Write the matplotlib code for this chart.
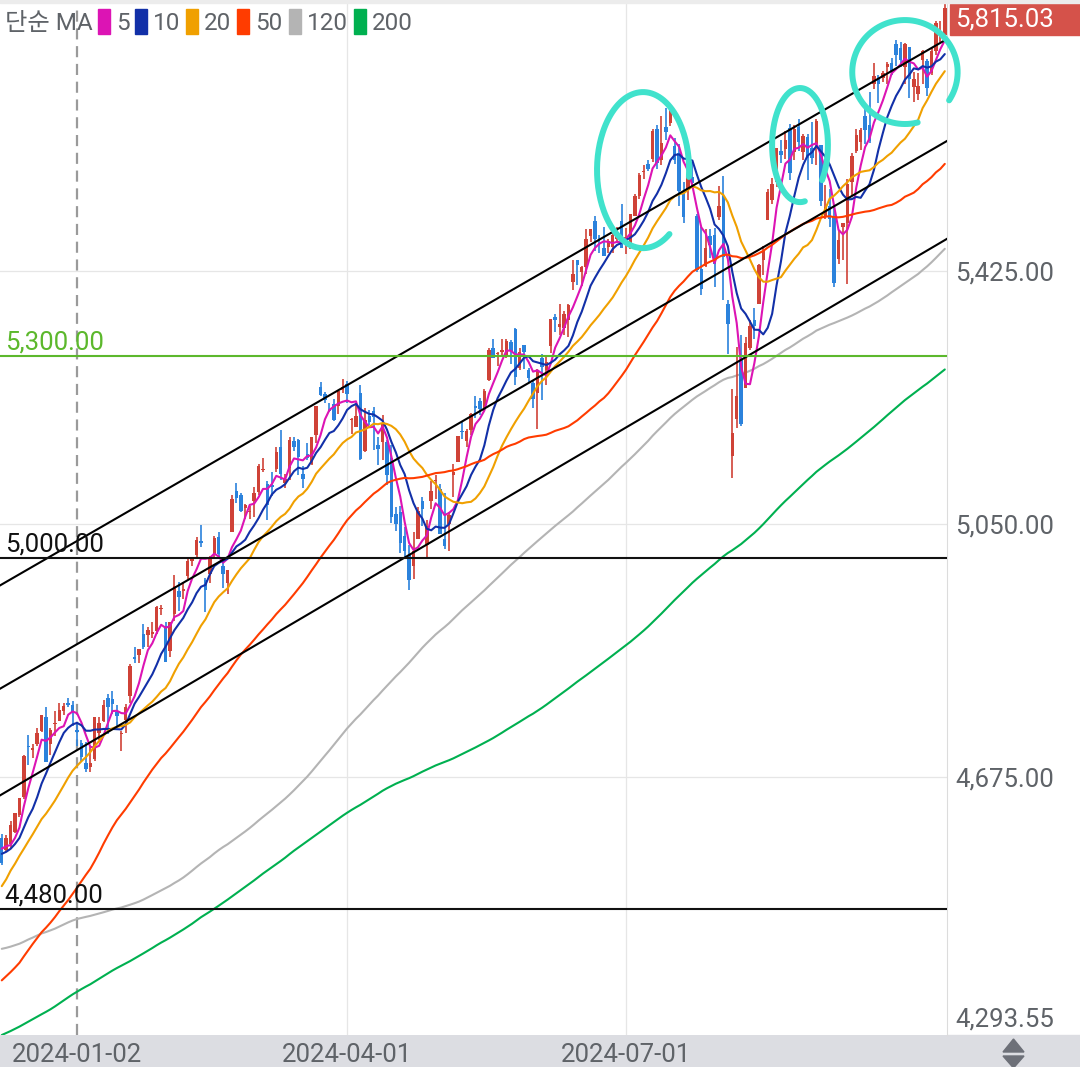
import numpy as np
import pandas as pd
import matplotlib
matplotlib.use('Agg')
import matplotlib.pyplot as plt
import matplotlib.transforms as mtransforms
from matplotlib.patches import Rectangle, Polygon

plt.rcParams['font.family'] = ['Roboto', 'Noto Sans CJK KR', 'DejaVu Sans']

# closes before the visible window (2023-02-21 .. 2023-12-05), only used to warm up the MAs
hist_close = [3997, 3991, 4012, 3970, 3982, 3970,
              3951, 3981, 4046, 4048, 3986, 3992, 3918, 3862, 3855, 3920, 3892, 3960, 3917, 3951, 4003, 3937, 3949, 3971, 3977, 3971, 4028, 4051, 4109,
              4125, 4101, 4091, 4105, 4110, 4109, 4092, 4146, 4138, 4152, 4155, 4155, 4130, 4134, 4137, 4072, 4056, 4136, 4169,
              4168, 4120, 4091, 4061, 4136, 4138, 4119, 4138, 4131, 4124, 4136, 4110, 4158, 4198, 4192, 4193, 4146, 4116, 4151, 4205, 4206, 4180,
              4221, 4282, 4273, 4284, 4268, 4294, 4299, 4338, 4369, 4373, 4426, 4410, 4389, 4366, 4382, 4348, 4328, 4378, 4377, 4396, 4450,
              4455, 4447, 4412, 4399, 4410, 4439, 4473, 4510, 4505, 4522, 4555, 4566, 4535, 4536, 4555, 4567, 4566, 4538, 4582, 4589,
              4577, 4513, 4502, 4478, 4518, 4499, 4468, 4469, 4464, 4490, 4437, 4404, 4370, 4370, 4400, 4387, 4436, 4376, 4406, 4433, 4497, 4514, 4508,
              4516, 4497, 4465, 4451, 4457, 4487, 4462, 4467, 4505, 4450, 4454, 4444, 4402, 4330, 4320, 4337, 4274, 4275, 4300, 4288,
              4288, 4229, 4263, 4258, 4308, 4336, 4358, 4377, 4350, 4328, 4373, 4373, 4315, 4278, 4224, 4217, 4248, 4186, 4137, 4117, 4167, 4194,
              4237, 4318, 4358, 4366, 4378, 4383, 4347, 4415, 4412, 4496, 4502, 4508, 4514, 4547, 4538, 4556, 4559, 4550, 4555, 4551, 4568,
              4595, 4569, 4567]

# visible daily candles 2023-12-06 .. 2024-10-11
opens = [4586, 4568, 4576, 4594, 4619, 4646, 4721, 4715, 4725, 4744, 4764, 4724, 4754, 4759, 4774, 4786, 4782,
         4745, 4726, 4697, 4690, 4703, 4741, 4759, 4793, 4791, 4772, 4739, 4760, 4796, 4853, 4856, 4888, 4886, 4888, 4892, 4925, 4899,
         4862, 4917, 4951, 4951, 4973, 4995, 5004, 5026, 4967, 4976, 5004, 5031, 4989, 4963, 5039, 5100, 5094, 5074, 5068, 5085,
         5098, 5131, 5110, 5109, 5132, 5164, 5111, 5134, 5174, 5175, 5124, 5154, 5140, 5182, 5253, 5243, 5220, 5228, 5226, 5249,
         5258, 5204, 5194, 5244, 5158, 5211, 5218, 5168, 5172, 5172, 5149, 5065, 5068, 5032, 5005, 4988, 5029, 5085, 5019, 5084, 5114, 5103,
         5029, 5050, 5123, 5142, 5188, 5173, 5190, 5226, 5233, 5222, 5264, 5311, 5303, 5305, 5299, 5320, 5340, 5282, 5315, 5278, 5259, 5244,
         5297, 5278, 5314, 5357, 5343, 5341, 5353, 5409, 5441, 5424, 5431, 5477, 5499, 5466, 5459, 5461, 5461, 5473, 5499,
         5471, 5461, 5507, 5537, 5572, 5584, 5591, 5636, 5590, 5638, 5645, 5610, 5600, 5543, 5545, 5565, 5506, 5428, 5433, 5477, 5478, 5505,
         5537, 5376, 5151, 5206, 5293, 5252, 5311, 5353, 5376, 5442, 5501, 5531, 5557, 5603, 5606, 5637, 5602, 5639, 5602, 5624, 5608, 5613,
         5612, 5506, 5521, 5507, 5443, 5490, 5496, 5557, 5603, 5616, 5655, 5641, 5703, 5709, 5711, 5727, 5733, 5762, 5755, 5727,
         5757, 5698, 5688, 5738, 5737, 5719, 5751, 5778, 5775]
highs = [4591, 4590, 4610, 4623, 4644, 4709, 4738, 4725, 4749, 4768, 4779, 4748, 4773, 4785, 4785, 4793, 4788,
         4755, 4730, 4727, 4721, 4764, 4765, 4790, 4798, 4803, 4782, 4744, 4784, 4843, 4868, 4866, 4903, 4898, 4906, 4929, 4931, 4906,
         4906, 4975, 4965, 4964, 4999, 5000, 5031, 5049, 4971, 5003, 5033, 5039, 4993, 4983, 5094, 5111, 5097, 5080, 5077, 5105,
         5140, 5149, 5114, 5127, 5165, 5190, 5124, 5179, 5180, 5176, 5136, 5170, 5180, 5225, 5261, 5246, 5229, 5236, 5249, 5265,
         5263, 5208, 5228, 5256, 5222, 5219, 5224, 5179, 5212, 5175, 5168, 5076, 5077, 5046, 5019, 5038, 5076, 5090, 5057, 5114, 5123, 5110,
         5096, 5069, 5140, 5181, 5201, 5191, 5215, 5240, 5237, 5250, 5311, 5325, 5305, 5325, 5324, 5323, 5341, 5311, 5316, 5282, 5263, 5280,
         5302, 5298, 5354, 5362, 5376, 5366, 5376, 5441, 5442, 5433, 5488, 5486, 5506, 5478, 5490, 5473, 5483, 5490, 5524,
         5489, 5510, 5539, 5570, 5583, 5590, 5635, 5642, 5655, 5667, 5670, 5622, 5614, 5557, 5567, 5586, 5509, 5491, 5488, 5488, 5489, 5551,
         5566, 5383, 5250, 5312, 5330, 5328, 5352, 5371, 5436, 5463, 5546, 5563, 5608, 5620, 5632, 5643, 5642, 5651, 5628, 5628, 5646, 5651,
         5612, 5552, 5546, 5523, 5484, 5497, 5561, 5600, 5636, 5637, 5671, 5690, 5734, 5716, 5721, 5735, 5741, 5767, 5764, 5763,
         5757, 5720, 5718, 5753, 5739, 5757, 5796, 5795, 5823]
lows = [4546, 4565, 4569, 4593, 4616, 4643, 4694, 4704, 4721, 4743, 4698, 4708, 4737, 4758, 4768, 4780, 4751,
        4722, 4700, 4683, 4683, 4699, 4730, 4757, 4739, 4769, 4748, 4714, 4741, 4785, 4845, 4845, 4865, 4869, 4882, 4888, 4916, 4846,
        4853, 4907, 4921, 4939, 4969, 4988, 4999, 5017, 4920, 4963, 4999, 4999, 4955, 4947, 5038, 5081, 5068, 5058, 5058, 5061,
        5094, 5127, 5057, 5092, 5128, 5115, 5104, 5115, 5158, 5123, 5104, 5146, 5138, 5171, 5240, 5229, 5216, 5203, 5214, 5245,
        5229, 5184, 5194, 5146, 5157, 5197, 5160, 5138, 5146, 5108, 5052, 5040, 5007, 5001, 4953, 4969, 5028, 5047, 5002, 5073, 5088, 5035,
        5013, 5011, 5091, 5142, 5176, 5165, 5183, 5208, 5212, 5218, 5263, 5296, 5284, 5300, 5296, 5287, 5256, 5279, 5280, 5260, 5223, 5191,
        5234, 5257, 5304, 5335, 5331, 5331, 5327, 5397, 5404, 5403, 5421, 5468, 5455, 5452, 5448, 5452, 5452, 5467, 5460,
        5451, 5458, 5507, 5532, 5562, 5574, 5587, 5576, 5583, 5619, 5640, 5584, 5522, 5497, 5530, 5551, 5424, 5390, 5431, 5444, 5401, 5501,
        5383, 5302, 5119, 5193, 5195, 5252, 5308, 5324, 5376, 5419, 5501, 5525, 5550, 5585, 5591, 5560, 5590, 5603, 5590, 5560, 5584, 5582,
        5521, 5503, 5490, 5402, 5435, 5441, 5406, 5536, 5600, 5604, 5614, 5615, 5695, 5674, 5705, 5702, 5716, 5729, 5728, 5703,
        5681, 5676, 5678, 5703, 5685, 5715, 5745, 5764, 5773]
closes = [4549, 4586, 4604, 4622, 4644, 4707, 4720, 4719, 4741, 4768, 4698, 4746, 4755, 4775, 4781, 4783, 4770,
          4742, 4705, 4688, 4697, 4764, 4756, 4783, 4780, 4784, 4766, 4739, 4780, 4840, 4851, 4865, 4868, 4894, 4891, 4928, 4925, 4846,
          4906, 4959, 4943, 4954, 4995, 4998, 5027, 5022, 4953, 5001, 5030, 5006, 4976, 4982, 5087, 5089, 5070, 5078, 5070, 5096,
          5137, 5131, 5079, 5105, 5157, 5124, 5117, 5175, 5165, 5150, 5117, 5149, 5179, 5225, 5241, 5234, 5218, 5204, 5248, 5254,
          5243, 5205, 5211, 5147, 5204, 5202, 5209, 5161, 5199, 5123, 5061, 5051, 5022, 5011, 4967, 5010, 5070, 5072, 5048, 5100, 5116, 5036,
          5018, 5064, 5128, 5181, 5187, 5188, 5214, 5223, 5221, 5247, 5308, 5297, 5303, 5308, 5321, 5307, 5268, 5305, 5306, 5267, 5235, 5278,
          5283, 5291, 5354, 5353, 5347, 5361, 5375, 5421, 5434, 5431, 5473, 5487, 5473, 5465, 5448, 5469, 5478, 5483, 5460,
          5475, 5509, 5537, 5567, 5572, 5577, 5633, 5585, 5615, 5631, 5667, 5589, 5544, 5505, 5564, 5555, 5427, 5399, 5459, 5464, 5436, 5522,
          5446, 5347, 5186, 5240, 5199, 5319, 5344, 5344, 5434, 5455, 5543, 5554, 5608, 5597, 5620, 5571, 5635, 5616, 5625, 5592, 5592, 5648,
          5529, 5520, 5503, 5408, 5471, 5496, 5554, 5596, 5626, 5634, 5634, 5618, 5714, 5703, 5719, 5732, 5722, 5745, 5738, 5762,
          5709, 5710, 5700, 5751, 5696, 5751, 5792, 5780, 5815.03]

holidays = ['2023-12-25', '2024-01-01', '2024-01-15', '2024-02-19', '2024-03-29',
            '2024-05-27', '2024-06-19', '2024-07-04', '2024-09-02']
dates = pd.bdate_range('2023-12-06', '2024-10-11', freq='C', holidays=holidays)

ma_periods = [5, 10, 20, 50, 120, 200]
ma_colors = ['#dc14b4', '#1230a8', '#f0a000', '#ff3c00', '#b4b4b4', '#00b050']

levels = [5300, 5000, 4480]
level_colors = ['#5cb82c', '#111111', '#111111']
level_labels = ['5,300.00', '5,000.00', '4,480.00']

# hand drawn channel: price at first and last bar
channel_start = [4961, 4808, 4650]
channel_end = [5767, 5616, 5471]

ytick_vals = [5425, 5050, 4675]
date_ticks = ['2024-01-02', '2024-04-01', '2024-07-01']
last_price = 5815.03
ymin, ymax = 4293.55, 5826.7

# hand drawn cyan marks: center bar, center price, radius bars, radius price, start/end angle
circles = [(144.85, 5574.7, 10.4, 115.6, -5, 305),
           (180.3, 5611.8, 6.3, 84.5, -38, 280),
           (204.0, 5720.0, 11.9, 77.0, -33, 284)]

W, H = 1080, 1067
fig = plt.figure(figsize=(W / 100, H / 100), dpi=100)
fig.patch.set_facecolor('white')
ax = fig.add_axes([0, 32 / H, 947 / W, 1035 / H])

n = len(closes)
x = np.arange(n)
o, h, l, c = (np.array(v, dtype=float) for v in (opens, highs, lows, closes))
xmin, xmax = -0.4, 213.5
ax.set_xlim(xmin, xmax)
ax.set_ylim(ymin, ymax)

# grid
for v in ytick_vals:
    ax.axhline(v, color='#e6e6e6', lw=0.9, zorder=0.5)
pos = {d.strftime('%Y-%m-%d'): i for i, d in enumerate(dates[:n])}
for d in date_ticks:
    i = pos[d]
    if d.endswith('01-02'):
        ax.axvline(i, color='#9a9a9a', lw=1.6, dashes=(5, 3), zorder=0.6)
    else:
        ax.axvline(i, color='#e6e6e6', lw=0.9, zorder=0.5)

# moving averages
all_close = pd.Series(list(hist_close) + list(closes), dtype=float)
nh = len(hist_close)
for p, col in zip(ma_periods, ma_colors):
    ma = all_close.rolling(p).mean().values[nh:]
    ax.plot(x, ma, color=col, lw=1.5, zorder=2 if p >= 120 else 4, solid_capstyle='round')

# candles (red up, blue down)
cols = np.where(c >= o, '#cf4237', '#2b82dc')
ax.vlines(x, l, h, colors=cols, lw=1.2, zorder=3)
ax.bar(x, np.maximum(np.abs(c - o), 1.5), bottom=np.minimum(o, c), width=0.78,
       color=cols, linewidth=0, zorder=3)

# channel lines
for p0, p1 in zip(channel_start, channel_end):
    s = (p1 - p0) / (n - 1)
    ax.plot([xmin, xmax], [p0 + s * xmin, p0 + s * xmax], color='black', lw=1.5, zorder=5)

# level lines + labels
for v, col, lab in zip(levels, level_colors, level_labels):
    ax.axhline(v, color=col, lw=1.5, zorder=5)
    ax.annotate(lab, xy=(0, v), xycoords=('axes fraction', 'data'), xytext=(3.5, 4.5),
                textcoords='offset points', ha='left', va='baseline', fontsize=18.5, color=col, zorder=6)

# cyan marks
for cx, cy, rx, ry, a0, a1 in circles:
    t = np.radians(np.linspace(a0, a1, 200))
    ax.plot(cx + rx * np.cos(t), cy + ry * np.sin(t), color='#40e2cc', lw=4.3,
            solid_capstyle='round', zorder=7, clip_on=False)

for side in ['top', 'left', 'bottom']:
    ax.spines[side].set_visible(False)
ax.spines['right'].set_color('#dcdcdc')
ax.set_xticks([])
ax.set_yticks([])

# price axis labels
tr = mtransforms.blended_transform_factory(ax.transAxes, ax.transData)
for v in ytick_vals:
    ax.text(955 / 947, v, f'{v:,.2f}', transform=tr, ha='left', va='center_baseline',
            fontsize=18.5, color='#5f6368', clip_on=False)
ax.text(955 / 947, 8 / 1035, f'{ymin:,.2f}', transform=ax.transAxes, ha='left', va='baseline',
        fontsize=18.5, color='#5f6368', clip_on=False)

# bottom date band
fig.add_artist(Rectangle((0, 0), 1, 32 / H, transform=fig.transFigure, color='#dcdde2', zorder=-1))
trx = mtransforms.blended_transform_factory(ax.transData, ax.transAxes)
for d in date_ticks:
    ax.text(pos[d], -18 / 1035, d, transform=trx, ha='center', va='center_baseline',
            fontsize=18.5, color='#5f6368', clip_on=False)
fig.add_artist(Polygon([(1003 / W, 1 - 1052 / H), (1024 / W, 1 - 1052 / H), (1013.5 / W, 1 - 1039 / H)],
                       closed=True, transform=fig.transFigure, color='#6d7078'))
fig.add_artist(Polygon([(1003 / W, 1 - 1056 / H), (1024 / W, 1 - 1056 / H), (1013.5 / W, 1 - 1068 / H)],
                       closed=True, transform=fig.transFigure, color='#6d7078'))

# last price box
fig.add_artist(Rectangle((950 / W, 1 - 35 / H), 130 / W, 31 / H, transform=fig.transFigure,
                         color='#d5524a', zorder=8))
fig.text(955 / W, 1 - 20 / H, f'{last_price:,.2f}', ha='left', va='center', fontsize=18.5,
         color='white', zorder=9)

# top strip
fig.add_artist(Rectangle((0, 1 - 3 / H), 1, 3 / H, transform=fig.transFigure, color='#ececec', zorder=9))

# legend
legend_y = 1 - 30 / H
fig.text(5 / W, legend_y, '단순 MA', ha='left', va='baseline', fontsize=17.5, color='#5f6368')
lx = [98, 135, 186, 237, 289, 354]
for xx, p, col in zip(lx, ma_periods, ma_colors):
    fig.add_artist(Rectangle((xx / W, 1 - 34 / H), 12 / W, 25 / H, transform=fig.transFigure, color=col))
    fig.text((xx + 18) / W, legend_y, str(p), ha='left', va='baseline', fontsize=17.5, color='#5f6368')

fig.savefig('out.png', dpi=100)
